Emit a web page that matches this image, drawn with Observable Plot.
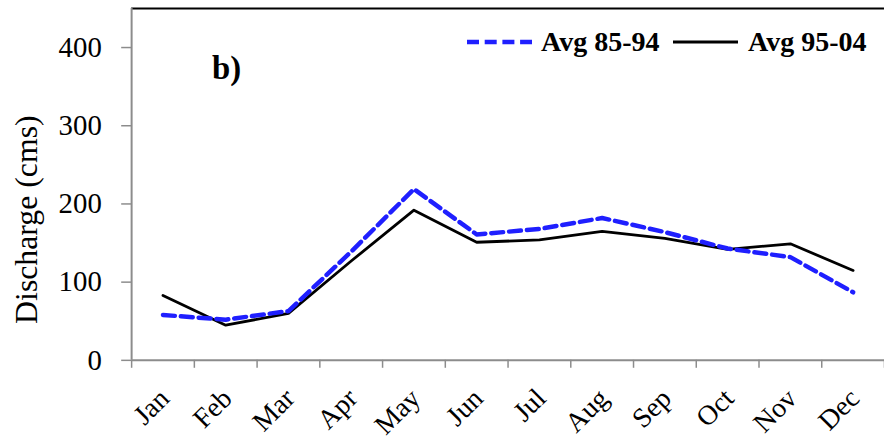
<!DOCTYPE html>
<html><head><meta charset="utf-8">
<script src="https://cdn.jsdelivr.net/npm/d3@7"></script>
<script src="https://cdn.jsdelivr.net/npm/@observablehq/plot@0.6"></script>
<style>
body{margin:0;background:#fff;overflow:hidden;}
#wrap{position:relative;width:884px;height:443px;overflow:hidden;font-family:'Liberation Serif', serif;}
#wrap svg.plot{position:absolute;left:0;top:0;font-family:'Liberation Serif', serif;}
#wrap svg.plot text{font-family:'Liberation Serif', serif;}
.lg{position:absolute;font-family:'Liberation Serif', serif;font-weight:bold;font-size:28px;line-height:1;white-space:nowrap;color:#000;}
.sw{position:absolute;}
</style></head><body><div id="wrap"></div>
<script>
const months = ["Jan","Feb","Mar","Apr","May","Jun","Jul","Aug","Sep","Oct","Nov","Dec"];
const avg8594 = [58,52,63,139,219,161,168,182,164,143,132,87];
const avg9504 = [83,45,60,127,192,151,154,165,156,142,149,115];
const yTicks = [0,100,200,300,400];
const seriesNames = ["Avg 85-94","Avg 95-04"];
const panelLabel = "b)";
const yLabel = "Discharge (cms)";

const FONT = "'Liberation Serif', serif";
const blue = "#1f1fff";
const data1 = months.map((m,i)=>({i:i+0.5, v:avg8594[i]}));
const data2 = months.map((m,i)=>({i:i+0.5, v:avg9504[i]}));
const monthData = months.map((m,i)=>({i:i+0.5, m}));

const chart = Plot.plot({
  width: 890, height: 443,
  marginLeft: 132, marginRight: 0, marginTop: 8, marginBottom: 80.7,
  style: {fontFamily: FONT, background: "white", color: "#000"},
  x: {domain: [0, 12], axis: null},
  y: {domain: [0, 450], axis: null},
  marks: [
    Plot.ruleY([450], {stroke: "#000", strokeWidth: 2}),
    Plot.ruleX([0], {stroke: "#8c8c8c", strokeWidth: 2}),
    Plot.ruleY([0], {stroke: "#8c8c8c", strokeWidth: 2}),
    Plot.axisY({ticks: yTicks, tickSize: 10, tickPadding: 20, fontSize: 29, fontFamily: FONT, stroke: "#8c8c8c", strokeWidth: 1.5, label: null, tickFormat: d => String(d), color: "#000"}),
    Plot.axisX({ticks: d3.range(13), tickSize: 8, tickFormat: () => "", stroke: "#8c8c8c", strokeWidth: 1.5, label: null}),
    Plot.text(monthData, {x: "i", y: 0, text: "m", rotate: -45, textAnchor: "end", lineAnchor: "bottom", dx: 8, dy: 40, fontSize: 28, fontFamily: FONT, fill: "#000"}),
    Plot.text([yLabel], {frameAnchor: "left", textAnchor: "middle", lineAnchor: "middle", rotate: -90, dx: -105, dy: 35.5, fontSize: 32, fontFamily: FONT, fill: "#000"}),
    Plot.text([panelLabel], {frameAnchor: "top-left", textAnchor: "start", lineAnchor: "middle", dx: 81, dy: 60, fontSize: 33, fontWeight: "bold", fontFamily: FONT, fill: "#000"}),
    Plot.line(data2, {x: "i", y: "v", stroke: "#000", strokeWidth: 2.8}),
    Plot.line(data1, {x: "i", y: "v", stroke: blue, strokeWidth: 4.5, strokeDasharray: "12,6"})
  ]
});
chart.classList.add("plot");
const wrap = document.getElementById("wrap");
wrap.appendChild(chart);

// legend
function swatch(left, color, width, dash) {
  const ns = "http://www.w3.org/2000/svg";
  const s = document.createElementNS(ns, "svg");
  s.setAttribute("class", "sw");
  s.setAttribute("width", 70); s.setAttribute("height", 10);
  s.style.left = left + "px"; s.style.top = "37px";
  const l = document.createElementNS(ns, "line");
  l.setAttribute("x1", 0); l.setAttribute("x2", 65); l.setAttribute("y1", 5); l.setAttribute("y2", 5);
  l.setAttribute("stroke", color); l.setAttribute("stroke-width", width);
  if (dash) l.setAttribute("stroke-dasharray", dash);
  s.appendChild(l);
  wrap.appendChild(s);
}
function label(left, txt) {
  const d = document.createElement("div");
  d.className = "lg"; d.textContent = txt;
  d.style.left = left + "px"; d.style.top = "28px";
  wrap.appendChild(d);
}
swatch(467, blue, 4.5, "12,5.7");
label(541, seriesNames[0]);
swatch(673, "#000", 2.8, null);
label(748, seriesNames[1]);
</script></body></html>
